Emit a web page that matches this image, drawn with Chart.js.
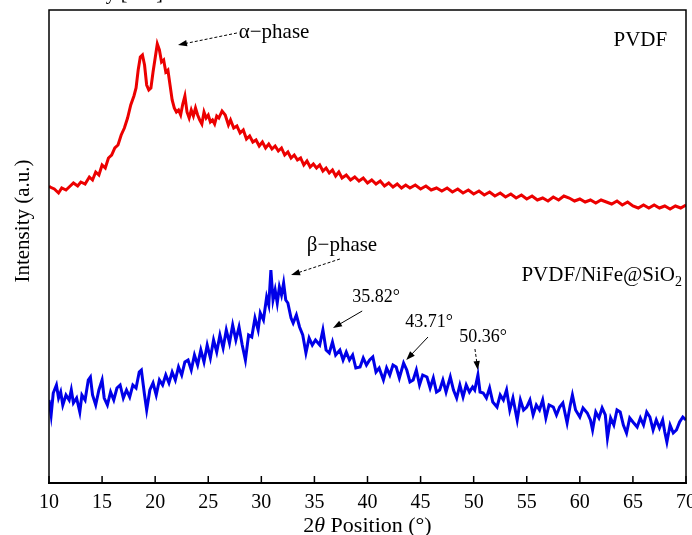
<!DOCTYPE html>
<html><head><meta charset="utf-8">
<script src="https://cdn.jsdelivr.net/npm/chart.js@4/dist/chart.umd.min.js"></script>
<style>html,body{margin:0;padding:0;background:#fff;overflow:hidden}canvas{display:block}</style>
</head><body>
<canvas id="c" width="692" height="535"></canvas>
<script>
// ---- data (2θ in degrees, intensity in arbitrary units) ----
const pvdfTheta = [10.0,10.1,10.5,10.9,11.2,11.6,12.0,12.3,12.7,13.0,13.4,13.8,14.1,14.4,14.7,15.0,15.3,15.6,15.9,16.2,16.5,16.8,17.1,17.4,17.7,18.0,18.2,18.4,18.6,18.8,19.0,19.2,19.4,19.6,19.8,20.0,20.2,20.4,20.6,20.8,21.0,21.2,21.4,21.6,21.8,22.0,22.2,22.4,22.6,22.8,23.0,23.2,23.4,23.6,23.8,24.0,24.2,24.4,24.6,24.8,25.0,25.2,25.4,25.6,25.8,26.0,26.3,26.6,26.9,27.1,27.4,27.7,28.0,28.3,28.6,28.9,29.2,29.5,29.8,30.1,30.4,30.7,31.0,31.3,31.6,31.9,32.2,32.5,32.8,33.1,33.4,33.7,34.0,34.3,34.6,34.9,35.2,35.5,35.8,36.1,36.4,36.7,37.0,37.3,37.6,38.0,38.4,38.8,39.2,39.6,40.0,40.4,40.8,41.2,41.6,42.0,42.4,42.8,43.2,43.6,44.0,44.5,45.0,45.5,46.0,46.5,47.0,47.5,48.0,48.5,49.0,49.5,50.0,50.5,51.0,51.5,52.0,52.5,53.0,53.5,54.0,54.5,55.0,55.5,56.0,56.5,57.0,57.5,58.0,58.5,59.0,59.5,60.0,60.5,61.0,61.5,62.0,62.5,63.0,63.5,64.0,64.5,65.0,65.5,66.0,66.5,67.0,67.5,68.0,68.5,69.0,69.5,70.0];
const pvdfIntensity = [297,296,294,290,295,293,297,300,297,301,299,306,303,311,308,318,315,325,328,335,338,348,355,365,378,387,395,413,426,428,418,398,393,395,411,425,439,433,421,423,411,413,398,383,375,371,373,368,379,387,371,365,373,367,375,368,363,359,371,365,368,361,363,359,367,365,372,368,358,363,355,357,350,353,344,347,341,343,337,341,335,339,334,337,332,335,328,331,325,328,323,325,318,322,316,319,315,318,312,315,310,313,307,311,305,308,303,306,302,305,300,303,299,302,297,300,296,299,295,298,295,298,294,297,293,295,292,295,291,294,290,293,289,292,288,291,287,290,286,289,285,288,284,287,283,285,282,286,283,287,285,282,284,281,283,280,283,281,279,282,278,281,277,275,278,275,278,275,277,274,277,275,278];

const compTheta = [10.0,10.2,10.4,10.7,10.9,11.1,11.3,11.6,11.9,12.1,12.3,12.6,12.9,13.1,13.4,13.7,13.9,14.1,14.4,14.7,15.0,15.2,15.5,15.8,16.1,16.4,16.7,17.0,17.3,17.6,17.9,18.2,18.5,18.7,19.0,19.2,19.5,19.8,20.1,20.4,20.7,21.0,21.3,21.6,21.9,22.2,22.5,22.8,23.1,23.4,23.7,24.0,24.3,24.6,24.9,25.2,25.5,25.8,26.1,26.4,26.7,27.0,27.3,27.6,27.9,28.2,28.5,28.8,29.1,29.4,29.7,29.9,30.2,30.5,30.7,30.9,31.1,31.3,31.5,31.7,31.9,32.1,32.3,32.5,32.8,33.0,33.3,33.6,33.9,34.2,34.5,34.8,35.1,35.5,35.8,36.1,36.4,36.7,37.0,37.4,37.7,38.0,38.3,38.6,38.9,39.3,39.6,39.9,40.2,40.5,40.8,41.1,41.5,41.8,42.1,42.4,42.7,43.0,43.4,43.7,44.0,44.3,44.6,44.9,45.2,45.6,45.9,46.2,46.5,46.8,47.1,47.4,47.8,48.1,48.4,48.7,49.0,49.3,49.6,49.9,50.1,50.4,50.6,50.9,51.2,51.5,51.8,52.2,52.5,52.8,53.1,53.4,53.7,54.1,54.4,54.7,55.0,55.3,55.6,55.9,56.2,56.5,56.8,57.1,57.5,57.8,58.1,58.4,58.8,59.1,59.3,59.6,60.0,60.3,60.7,61.0,61.2,61.5,61.8,62.1,62.4,62.6,62.9,63.2,63.5,63.8,64.1,64.4,64.7,65.0,65.4,65.7,66.0,66.3,66.6,66.9,67.2,67.5,67.8,68.0,68.2,68.5,68.8,69.1,69.4,69.7,70.0];
const compIntensity = [83,68,90,98,85,91,78,88,83,93,80,85,71,88,83,103,106,88,78,93,103,85,78,91,83,95,98,85,93,86,98,95,111,113,88,73,93,100,88,103,98,108,100,111,103,116,108,121,123,113,128,118,133,121,138,125,143,131,148,135,153,140,158,143,156,138,123,148,146,165,153,170,163,186,178,213,183,193,180,196,188,200,183,180,165,160,168,156,148,130,145,138,143,138,153,133,130,141,128,133,123,131,123,128,115,116,125,118,123,126,111,115,103,115,108,118,116,105,120,113,101,103,113,98,108,106,95,105,91,93,103,91,106,93,85,98,86,98,91,96,93,108,91,90,85,95,81,76,88,83,93,73,85,63,83,73,76,83,68,78,73,83,65,78,76,68,76,80,60,78,88,73,66,75,70,63,53,71,65,75,68,45,65,58,73,71,58,50,65,61,56,65,58,71,66,53,63,55,63,51,41,58,50,53,61,66,63];

const xTicks = [10,15,20,25,30,35,40,45,50,55,60,65,70];
const seriesNames = ['PVDF','PVDF/NiFe@SiO'];
const xTitle = ['2', 'θ', ' Position (°)'];
const yTitle = 'Intensity (a.u.)';
const topCutText = 'Intensity [a.u.]';

// annotations in data coordinates
const notes = [
  {text:'α−phase', x:31.2, y:451, size:21, from:[27.7,450], to:[22.15,438], dash:true},
  {text:'β−phase', x:37.6, y:238, size:21, from:[37.4,224], to:[32.8,208], dash:true},
  {text:'35.82°', x:40.8, y:186, size:18, from:[39.5,172], to:[36.75,155], dash:false},
  {text:'43.71°', x:45.8, y:161, size:18, from:[45.7,146], to:[43.65,123], dash:false},
  {text:'50.36°', x:50.9, y:146, size:18, from:[50.12,134], to:[50.4,113], dash:true}
];
const sampleLabels = [
  {text:'PVDF', x:65.7, y:443, sub:''},
  {text:'PVDF/NiFe@SiO', x:69.62, y:208, sub:'2', right:true}
];

const SERIF = '"Liberation Serif","Times New Roman",serif';

const decor = {
  id:'decor',
  afterDraw(chart){
    const {ctx, chartArea:a, scales:{x, y}} = chart;
    ctx.save();
    ctx.strokeStyle = '#000';
    ctx.lineWidth = 1.5;
    ctx.beginPath();
    ctx.moveTo(a.left, a.bottom); ctx.lineTo(a.left, a.top);
    ctx.lineTo(a.right, a.top); ctx.lineTo(a.right, a.bottom);
    ctx.stroke();
    xTicks.forEach(v => {
      const px = x.getPixelForValue(v);
      ctx.beginPath(); ctx.moveTo(px, a.bottom); ctx.lineTo(px, a.bottom - 7); ctx.stroke();
    });
    ctx.fillStyle = '#000';
    notes.forEach(n => {
      ctx.font = n.size + 'px ' + SERIF;
      ctx.textAlign = 'center'; ctx.textBaseline = 'middle';
      ctx.fillText(n.text, x.getPixelForValue(n.x), y.getPixelForValue(n.y));
      const x1 = x.getPixelForValue(n.from[0]), y1 = y.getPixelForValue(n.from[1]);
      const x2 = x.getPixelForValue(n.to[0]), y2 = y.getPixelForValue(n.to[1]);
      const ang = Math.atan2(y2 - y1, x2 - x1);
      const L = 9, W = 3.2;
      ctx.lineWidth = 1;
      ctx.setLineDash(n.dash ? [3, 2] : []);
      ctx.beginPath(); ctx.moveTo(x1, y1);
      ctx.lineTo(x2 - Math.cos(ang) * L * 0.8, y2 - Math.sin(ang) * L * 0.8); ctx.stroke();
      ctx.setLineDash([]);
      ctx.beginPath();
      ctx.moveTo(x2, y2);
      ctx.lineTo(x2 - Math.cos(ang) * L - Math.sin(ang) * W, y2 - Math.sin(ang) * L + Math.cos(ang) * W);
      ctx.lineTo(x2 - Math.cos(ang) * L + Math.sin(ang) * W, y2 - Math.sin(ang) * L - Math.cos(ang) * W);
      ctx.closePath(); ctx.fill();
    });
    sampleLabels.forEach(s => {
      ctx.font = '21px ' + SERIF;
      ctx.textBaseline = 'middle';
      const w = ctx.measureText(s.text).width;
      ctx.font = '14px ' + SERIF;
      const ws = s.sub ? ctx.measureText(s.sub).width : 0;
      const px = x.getPixelForValue(s.x), py = y.getPixelForValue(s.y);
      const left = s.right ? px - w - ws : px - w / 2;
      ctx.textAlign = 'left';
      ctx.font = '21px ' + SERIF;
      ctx.fillText(s.text, left, py);
      if (s.sub) { ctx.font = '14px ' + SERIF; ctx.fillText(s.sub, left + w, py + 7); }
    });
    ctx.textBaseline = 'alphabetic'; ctx.textAlign = 'left';
    const fonts = ['22px ' + SERIF, 'italic 22px ' + SERIF, '22px ' + SERIF];
    let tw = 0; const ws = [];
    xTitle.forEach((t, i) => { ctx.font = fonts[i]; const w = ctx.measureText(t).width; ws.push(w); tw += w; });
    let cx = (a.left + a.right) / 2 - tw / 2;
    xTitle.forEach((t, i) => { ctx.font = fonts[i]; ctx.fillText(t, cx, 532); cx += ws[i]; });
    ctx.save();
    ctx.translate(29, 221);
    ctx.rotate(-Math.PI / 2);
    ctx.font = '21px ' + SERIF; ctx.textAlign = 'center'; ctx.textBaseline = 'alphabetic';
    ctx.fillText(yTitle, 0, 0);
    ctx.restore();
    ctx.font = '20px ' + SERIF; ctx.textAlign = 'right'; ctx.textBaseline = 'alphabetic';
    ctx.fillText(topCutText, 163, -1);
    ctx.restore();
  }
};

new Chart(document.getElementById('c'), {
  type: 'line',
  data: {
    datasets: [
      {label: seriesNames[0], data: pvdfTheta.map((t, i) => ({x: t, y: pvdfIntensity[i]})),
       borderColor: '#ec0000', borderWidth: 3, pointRadius: 0, tension: 0, fill: false},
      {label: seriesNames[1], data: compTheta.map((t, i) => ({x: t, y: compIntensity[i]})),
       borderColor: '#0000e8', borderWidth: 3, pointRadius: 0, tension: 0, fill: false}
    ]
  },
  options: {
    responsive: false,
    animation: false,
    events: [],
    layout: {padding: {left: 49, right: 6, top: 10, bottom: 0}},
    plugins: {legend: {display: false}, tooltip: {enabled: false}},
    scales: {
      x: {
        type: 'linear', min: 10, max: 70,
        afterBuildTicks: s => { s.ticks = xTicks.map(v => ({value: v})); },
        afterFit: s => { s.height = 52; s.paddingLeft = 0; s.paddingRight = 0; },
        grid: {display: false, drawTicks: false},
        border: {display: true, color: '#000', width: 2},
        ticks: {padding: 8, color: '#000', font: {family: SERIF, size: 20}, maxRotation: 0, autoSkip: false}
      },
      y: {type: 'linear', min: 0, max: 473, display: false}
    }
  },
  plugins: [decor]
});
</script>
</body></html>
